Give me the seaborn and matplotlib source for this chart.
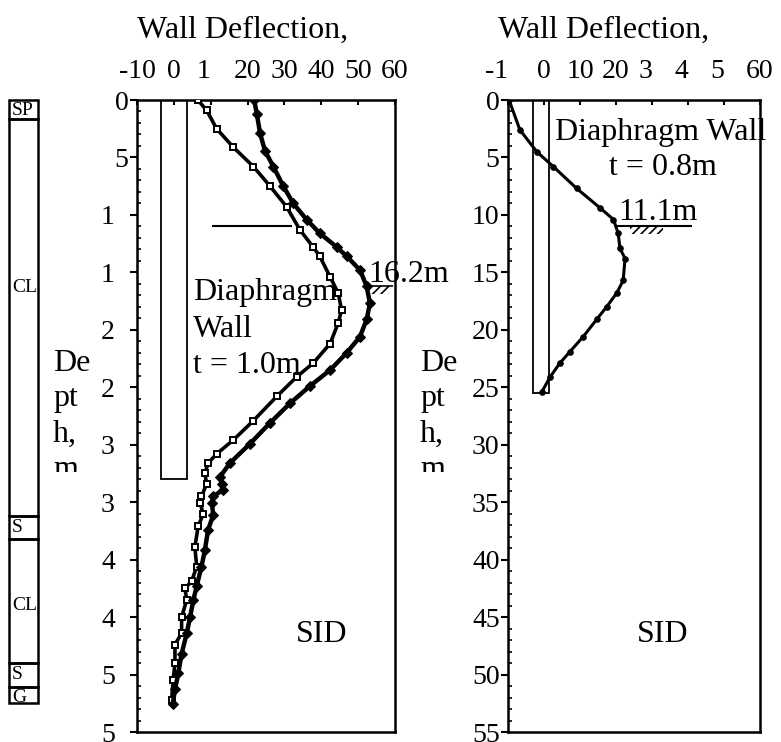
import numpy as np
import pandas as pd
import matplotlib
matplotlib.use("Agg")
import matplotlib.pyplot as plt
import seaborn as sns
from matplotlib.patches import Rectangle
from matplotlib.ticker import MultipleLocator
from matplotlib.transforms import Bbox, TransformedBbox, ScaledTranslation

# ---------------- data ----------------
x_ticks = [-10, 0, 10, 20, 30, 40, 50, 60]
x_labels_left = ["-10", "0", "1", "20", "30", "40", "50", "60"]
x_labels_right = ["-1", "0", "10", "20", "3", "4", "5", "60"]
depth_ticks = [0, 5, 10, 15, 20, 25, 30, 35, 40, 45, 50, 55]
y_labels_left = ["0", "5", "1", "1", "2", "2", "3", "3", "4", "4", "5", "5"]
y_labels_right = ["0", "5", "10", "15", "20", "25", "30", "35", "40", "45", "50", "55"]

# left panel, series A (hollow squares)
depth_a = [0, 0.9, 2.5, 4.1, 5.8, 7.5, 9.3, 11.3, 12.8, 13.6, 15.4, 16.8, 18.3, 19.4,
           21.2, 22.9, 24.1, 25.8, 27.9, 29.6, 30.8, 31.6, 32.5, 33.4, 34.5, 35.1, 36.0,
           37.1, 38.9, 40.6, 41.9, 42.5, 43.5, 45.0, 46.4, 47.4, 49.0, 50.5, 52.2]
defl_a = [6.5, 8.9, 11.6, 16.1, 21.6, 26.1, 30.6, 34.2, 37.8, 39.6, 42.4, 44.6, 45.5, 44.6,
          42.4, 37.8, 33.3, 27.9, 21.6, 16.1, 11.6, 9.3, 8.4, 8.9, 7.5, 7.1, 8.0,
          6.6, 5.7, 6.2, 4.8, 3.0, 3.5, 2.1, 2.1, 0.3, 0.3, -0.2, -0.6]

# left panel, series B (filled diamonds)
depth_b = [0, 1.2, 2.9, 4.4, 5.8, 7.5, 9.0, 10.4, 11.6, 12.8, 13.6, 14.8, 16.2, 17.7,
           19.1, 20.6, 22.0, 23.5, 24.9, 26.4, 28.1, 29.9, 31.6, 32.8, 33.4, 33.9, 34.5,
           35.1, 36.1, 37.4, 39.2, 40.6, 42.3, 43.5, 45.0, 46.4, 48.2, 49.9, 51.3, 52.6]
defl_b = [21.8, 22.5, 23.4, 24.7, 27.0, 29.7, 32.4, 36.0, 39.6, 44.2, 46.9, 50.5, 52.3, 53.2,
          52.3, 50.5, 46.9, 42.4, 36.9, 31.5, 26.1, 20.7, 15.2, 12.5, 13.0, 13.4, 10.7,
          10.3, 10.7, 9.3, 8.4, 7.5, 6.2, 5.3, 4.4, 3.5, 2.1, 1.2, 0.3, -0.3]

# right panel, series C (filled circles)
depth_c = [0, 2.6, 4.5, 5.8, 7.7, 9.4, 10.4, 11.6, 12.9, 13.8, 15.7, 16.8, 18.0, 19.1,
           20.6, 21.9, 22.9, 24.1, 25.4]
defl_c = [-9.7, -6.7, -2.0, 2.6, 9.1, 15.6, 19.3, 20.6, 21.1, 22.5, 22.0, 20.2, 17.4, 14.6,
          10.9, 7.2, 4.4, 1.7, -0.6]

# diaphragm walls (x from, x to, toe depth)
wall_left = (-3.6, 3.5, 33.0)
wall_right = (-3.0, 1.4, 25.5)
# excavation levels (depth, x from, x to)
exc_left = (11.0, 10.3, 32.0)
exc_right = (11.0, 20.3, 41.1)

# soil column
soil_tops = [0, 1.65, 36.2, 38.2, 49.0, 51.1]
soil_bottoms = [1.65, 36.2, 38.2, 49.0, 51.1, 52.5]
soil_names = ["SP", "CL", "S", "CL", "S", "G"]
soil_label_depths = [0.9, 16.3, 37.2, 44.0, 50.0, 52.0]

# ---------------- figure ----------------
sns.set_theme(style="white")
plt.rcParams['font.family'] = ['Liberation Serif', 'DejaVu Serif']
plt.rcParams['hatch.linewidth'] = 1.2

W, H = 781, 742
fig = plt.figure(figsize=(W / 100, H / 100), dpi=100)


def rect(x0, y0, x1, y1):
    return [x0 / W, 1 - y1 / H, (x1 - x0) / W, (y1 - y0) / H]


def ftxt(x, y, s, **kw):
    kw.setdefault('fontsize', 23)
    kw.setdefault('va', 'baseline')
    return fig.text(x / W, 1 - y / H, s, color='black', **kw)


axL = fig.add_axes(rect(137, 100, 395, 732))
axR = fig.add_axes(rect(508, 100, 760, 732))
axS = fig.add_axes(rect(9, 100, 38, 732))

dfa = pd.DataFrame({"defl": defl_a, "depth": depth_a})
dfb = pd.DataFrame({"defl": defl_b, "depth": depth_b})
dfc = pd.DataFrame({"defl": defl_c, "depth": depth_c})

sns.lineplot(data=dfa, x="defl", y="depth", sort=False, estimator=None, ax=axL,
             color='black', lw=2.6, marker='s', markersize=4.5, markerfacecolor='white',
             markeredgecolor='black', markeredgewidth=1.4, legend=False, zorder=5)
sns.lineplot(data=dfb, x="defl", y="depth", sort=False, estimator=None, ax=axL,
             color='black', lw=3.2, marker='D', markersize=5.5, markerfacecolor='black',
             markeredgecolor='black', legend=False, zorder=5)
sns.lineplot(data=dfc, x="defl", y="depth", sort=False, estimator=None, ax=axR,
             color='black', lw=2.2, marker='o', markersize=4, markerfacecolor='black',
             markeredgecolor='black', legend=False, zorder=5)


def style(ax, xlabels, ylabels):
    ax.set_xlim(-10, 60)
    ax.set_ylim(55, 0)
    ax.set_xticks(x_ticks)
    ax.set_xticklabels(xlabels)
    ax.set_yticks(depth_ticks)
    ax.set_yticklabels(ylabels)
    ax.yaxis.set_minor_locator(MultipleLocator(1))
    ax.xaxis.tick_top()
    ax.tick_params(axis='x', which='major', direction='in', length=3.6, width=1.5,
                   pad=11.5, labelsize=20, top=True, bottom=False, labeltop=True,
                   labelbottom=False, colors='black')
    ax.tick_params(axis='y', which='major', direction='out', length=5, width=1.5,
                   pad=1, labelsize=20, left=True, right=False, colors='black')
    ax.tick_params(axis='y', which='minor', direction='in', length=3, width=1.2,
                   left=True, right=False, colors='black')
    for sp in ax.spines.values():
        sp.set_linewidth(1.8)
        sp.set_color('black')
        sp.set_visible(True)
    ax.set_xlabel('')
    ax.set_ylabel('')
    ax.set_facecolor('white')


style(axL, x_labels_left, y_labels_left)
style(axR, x_labels_right, y_labels_right)

# truncated tick labels keep the position of the first character
labsL = axL.get_xticklabels()
labsL[2].set_ha('right')
labsR = axR.get_xticklabels()
for i in (0, 4, 5, 6):
    labsR[i].set_ha('right')
shift = ScaledTranslation(-0.139, 0, fig.dpi_scale_trans)
for i, lab in enumerate(axL.get_yticklabels()):
    if i >= 2:
        lab.set_transform(lab.get_transform() + shift)

# walls and excavation
for ax, (x0, x1, d) in ((axL, wall_left), (axR, wall_right)):
    ax.add_patch(Rectangle((x0, 0), x1 - x0, d, fill=False, ec='black', lw=1.3, zorder=3))
for ax, (d, x0, x1) in ((axL, exc_left), (axR, exc_right)):
    ax.hlines(d, x0, x1, color='black', lw=1.5, zorder=3)

# ground-level symbols
axL.hlines(16.2, 52.4, 59.5, color='black', lw=1.2, clip_on=False, zorder=4)
axL.add_patch(Rectangle((53.0, 16.2), 5.5, 0.7, hatch='////', fill=False, ec='black',
                        lw=0, clip_on=False, zorder=4))
axR.add_patch(Rectangle((24.0, 11.0), 9.0, 0.7, hatch='////', fill=False, ec='black',
                        lw=0, clip_on=False, zorder=4))

# soil column
axS.set_xlim(0, 1)
axS.set_ylim(55, 0)
axS.axis('off')
for top, bot in zip(soil_tops, soil_bottoms):
    axS.add_patch(Rectangle((0, top), 1, bot - top, fill=False, ec='black', lw=1.8,
                            clip_on=False))
for name, d in zip(soil_names, soil_label_depths):
    axS.text(0.1, d, name, ha='left', va='center', fontsize=14, color='black', clip_on=True)

# titles and annotations
ftxt(243, 38, "Wall Deflection,", ha='center')
ftxt(604, 38, "Wall Deflection,", ha='center')
ftxt(193, 300, "Diaphragm", ha='left')
ftxt(193, 337, "Wall", ha='left')
ftxt(193, 373, "t = 1.0m", ha='left')
ftxt(368, 282, "16.2m", ha='left')
ftxt(322, 642, "SID", ha='center')
ftxt(555, 140, "Diaphragm Wall", ha='left')
ftxt(609, 175, "t = 0.8m", ha='left')
ftxt(618, 220, "11.1m", ha='left')
ftxt(663, 642, "SID", ha='center')

clip = TransformedBbox(Bbox.from_extents(0, 1 - 472 / H, 1, 1), fig.transFigure)
for xp in (53, 420):
    t = ftxt(xp, 349, "De\npt\nh,\nm", ha='left', va='top', linespacing=1.29)
    t.set_clip_box(clip)
    t.set_clip_on(True)

fig.savefig("out.png", dpi=100, facecolor='white')
